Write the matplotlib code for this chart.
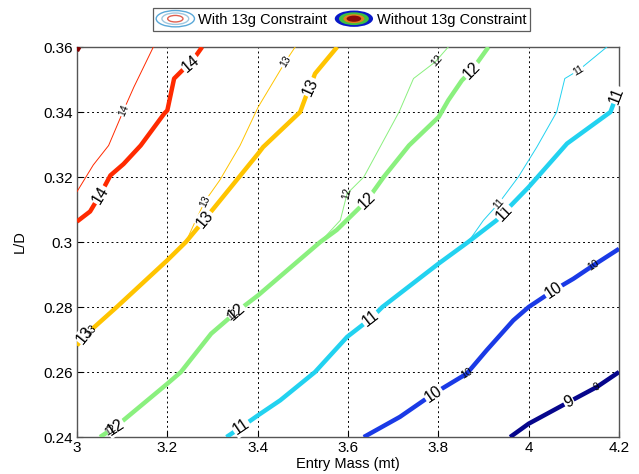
import numpy as np
import matplotlib
matplotlib.use('Agg')
import matplotlib.pyplot as plt
from matplotlib.legend_handler import HandlerBase
from matplotlib.patches import Ellipse, Patch

plt.rcParams['font.family'] = ['Liberation Sans', 'DejaVu Sans']

# contour lines of the objective over (entry mass, L/D)
# thick = without 13g constraint, thin = with 13g constraint
mass_14 = [3.0, 3.029, 3.051, 3.074, 3.103, 3.141, 3.193, 3.2, 3.215, 3.233, 3.251, 3.277]
ld_14 = [0.3063, 0.3094, 0.3145, 0.3205, 0.324, 0.3297, 0.3395, 0.3405, 0.3503, 0.3528, 0.3549, 0.36]
mass_14_c = [3.0, 3.036, 3.07, 3.103, 3.126, 3.169]
ld_14_c = [0.3155, 0.3237, 0.3297, 0.3405, 0.3477, 0.36]

mass_13 = [3.0, 3.018, 3.088, 3.2, 3.241, 3.283, 3.401, 3.412, 3.494, 3.509, 3.516, 3.527, 3.576]
ld_13 = [0.2682, 0.2713, 0.28, 0.2944, 0.30, 0.307, 0.3272, 0.3292, 0.34, 0.3456, 0.3477, 0.3518, 0.36]
mass_13_c = [3.0, 3.018, 3.088, 3.2, 3.241, 3.263, 3.283, 3.316, 3.361, 3.401, 3.461, 3.483]
ld_13_c = [0.2682, 0.2713, 0.28, 0.2944, 0.30, 0.3067, 0.3125, 0.319, 0.3297, 0.3415, 0.3554, 0.36]

mass_12 = [3.051, 3.085, 3.2, 3.23, 3.297, 3.353, 3.401, 3.5385, 3.575, 3.642, 3.679, 3.735,
           3.801, 3.822, 3.852, 3.874, 3.911]
ld_12 = [0.24, 0.2431, 0.2564, 0.26, 0.2718, 0.2785, 0.2836, 0.30, 0.3037, 0.3128, 0.32, 0.3297,
         0.3385, 0.3436, 0.3497, 0.3528, 0.36]
mass_12_c = [3.051, 3.085, 3.2, 3.23, 3.297, 3.353, 3.401, 3.5385, 3.583, 3.598, 3.635, 3.713,
             3.745, 3.793, 3.822]
ld_12_c = [0.24, 0.2431, 0.2564, 0.26, 0.2718, 0.2785, 0.2836, 0.30, 0.3067, 0.3149, 0.32, 0.34,
           0.3503, 0.3554, 0.36]

mass_11 = [3.331, 3.364, 3.401, 3.45, 3.527, 3.598, 3.65, 3.676, 3.8, 3.866, 3.929, 3.945,
           4.0, 4.085, 4.181, 4.188, 4.2]
ld_11 = [0.24, 0.2431, 0.2467, 0.2513, 0.26, 0.2708, 0.2764, 0.28, 0.2933, 0.30, 0.3067, 0.309,
         0.3169, 0.3303, 0.34, 0.3426, 0.347]
mass_11_c = [3.331, 3.364, 3.401, 3.45, 3.527, 3.598, 3.65, 3.676, 3.8, 3.866, 3.9, 3.933,
             3.977, 4.018, 4.062, 4.08, 4.11, 4.173]
ld_11_c = [0.24, 0.2431, 0.2467, 0.2513, 0.26, 0.2708, 0.2764, 0.28, 0.2933, 0.30, 0.3067, 0.3118,
           0.32, 0.3292, 0.34, 0.3503, 0.3528, 0.36]

mass_10 = [3.635, 3.715, 3.789, 3.863, 3.907, 3.966, 4.0, 4.055, 4.099, 4.143, 4.2]
ld_10 = [0.24, 0.2462, 0.2533, 0.2595, 0.2667, 0.2759, 0.28, 0.2851, 0.2887, 0.2928, 0.2979]

mass_9 = [3.959, 4.0, 4.089, 4.151, 4.2]
ld_9 = [0.24, 0.2441, 0.2508, 0.2554, 0.26]

mass_15 = [3.0, 3.005]
ld_15 = [0.3588, 0.36]

colors = {9: '#06068c', 10: '#1a3ae6', 11: '#22d2f0', 12: '#8af07e', 13: '#ffc400',
          14: '#ff2a00', 15: '#800000'}

thick = {9: (mass_9, ld_9), 10: (mass_10, ld_10), 11: (mass_11, ld_11),
         12: (mass_12, ld_12), 13: (mass_13, ld_13), 14: (mass_14, ld_14), 15: (mass_15, ld_15)}
thin = {9: (mass_9, ld_9), 10: (mass_10, ld_10), 11: (mass_11_c, ld_11_c),
        12: (mass_12_c, ld_12_c), 13: (mass_13_c, ld_13_c), 14: (mass_14_c, ld_14_c)}

# where the inline level labels sit (x position along each line)
thick_labels = {14: [3.051, 3.251], 13: [3.018, 3.283, 3.516], 12: [3.085, 3.353, 3.642, 3.874],
                11: [3.364, 3.65, 3.945, 4.195], 10: [3.789, 4.055], 9: [4.089]}
thin_labels = {14: [3.103], 13: [3.03, 3.283, 3.461], 12: [3.075, 3.345, 3.598, 3.796],
               11: [3.933, 4.11], 10: [3.863, 4.143], 9: [4.151]}

fig = plt.figure(figsize=(6.39, 4.74), dpi=100)
ax = fig.add_axes([0.1205, 0.078, 0.8482, 0.8228])
ax.set_xlim(3, 4.2)
ax.set_ylim(0.24, 0.36)


def inline_label(ax, xs, ys, x0, text, size, bg):
    xs = np.asarray(xs)
    ys = np.asarray(ys)
    y0 = np.interp(x0, xs, ys)
    i = np.clip(np.searchsorted(xs, x0), 1, len(xs) - 1)
    p = ax.transData.transform([[xs[i - 1], ys[i - 1]], [xs[i], ys[i]]])
    ang = np.degrees(np.arctan2(p[1, 1] - p[0, 1], p[1, 0] - p[0, 0]))
    kw = dict(rotation=ang, rotation_mode='anchor', ha='center', va='center',
              fontsize=size, color='k', zorder=6)
    if bg:
        kw['bbox'] = dict(boxstyle='square,pad=0.05', fc='white', ec='none')
    ax.text(x0, y0, text, **kw)


for lev, (xs, ys) in thick.items():
    ax.plot(xs, ys, color=colors[lev], lw=3.2, solid_capstyle='butt', zorder=3)
for lev, (xs, ys) in thin.items():
    ax.plot(xs, ys, color=colors[lev], lw=0.7, zorder=4)

for lev, xpos in thick_labels.items():
    for x0 in xpos:
        inline_label(ax, *thick[lev], x0, str(lev), 11.5, True)
for lev, xpos in thin_labels.items():
    for x0 in xpos:
        inline_label(ax, *thin[lev], x0, str(lev), 7.5, lev in (14, 13, 11) and x0 > 3.1)

ax.set_xticks([3, 3.2, 3.4, 3.6, 3.8, 4, 4.2])
ax.set_xticklabels(['3', '3.2', '3.4', '3.6', '3.8', '4', '4.2'])
ax.set_yticks([0.24, 0.26, 0.28, 0.3, 0.32, 0.34, 0.36])
ax.set_yticklabels(['0.24', '0.26', '0.28', '0.3', '0.32', '0.34', '0.36'])
ax.tick_params(direction='in', length=4, labelsize=11, colors='k', pad=3)
ax.grid(True, color='k', linestyle=(0, (2, 3)), linewidth=0.7)
ax.set_axisbelow(True)
for s in ax.spines.values():
    s.set_color('#555555')
    s.set_linewidth(1.0)
ax.set_xlabel('Entry Mass (mt)', fontsize=10.5, labelpad=1)
ax.set_ylabel('L/D', fontsize=10.5, labelpad=12)


class ContourIcon(HandlerBase):
    def __init__(self, filled):
        super().__init__()
        self.filled = filled

    def create_artists(self, legend, orig_handle, xdescent, ydescent, width, height,
                       fontsize, trans):
        cx = width / 2 - xdescent
        cy = height / 2 - ydescent
        w = width * 1.05
        h = height * 1.25
        arts = []
        if self.filled:
            rings = [(1.0, '#0818c8'), (0.78, '#40c040'), (0.55, '#e08020'), (0.38, '#8a0a0a')]
            for f, c in rings:
                arts.append(Ellipse((cx, cy), w * f, h * f, fc=c, ec='none', transform=trans))
        else:
            rings = [(1.0, '#5aa8d8'), (0.7, '#a0c8e0'), (0.4, '#e06050')]
            for f, c in rings:
                arts.append(Ellipse((cx, cy), w * f, h * f, fc='none', ec=c, lw=1.0,
                                    transform=trans))
        return arts


h1, h2 = Patch(), Patch()
leg = fig.legend([h1, h2], ['With 13g Constraint', 'Without 13g Constraint'],
                 handler_map={h1: ContourIcon(False), h2: ContourIcon(True)},
                 loc='center', bbox_to_anchor=(0.5345, 0.959), ncol=2, fontsize=10.5,
                 frameon=True, fancybox=False, handlelength=2.5, handleheight=1.0,
                 handletextpad=0.3, columnspacing=0.6, borderpad=0.3, borderaxespad=0)
leg.get_frame().set_edgecolor('#333333')
leg.get_frame().set_linewidth(0.9)

plt.savefig('out.png', dpi=100)
